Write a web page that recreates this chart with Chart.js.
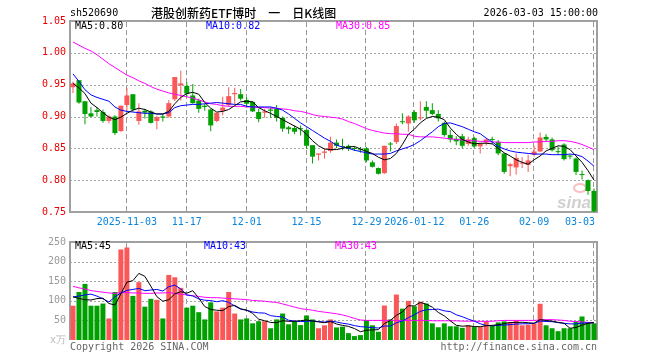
<!DOCTYPE html>
<html><head><meta charset="utf-8">
<script src="https://cdn.jsdelivr.net/npm/chart.js@4/dist/chart.umd.min.js"></script>
<style>
html,body{margin:0;padding:0;background:#fff;}
#wrap{position:relative;width:660px;height:360px;background:#fff;}
#price{position:absolute;left:0;top:0;}
#vol{position:absolute;left:0;top:232px;}
</style>
</head><body>
<div id="wrap"><canvas id="price" width="660" height="232"></canvas><canvas id="vol" width="660" height="128"></canvas></div>
<script>
const dates = ['2025-10-21','2025-10-22','2025-10-23','2025-10-24','2025-10-27','2025-10-28','2025-10-29','2025-10-30','2025-10-31',
'2025-11-03','2025-11-04','2025-11-05','2025-11-06','2025-11-07','2025-11-10','2025-11-11','2025-11-12','2025-11-13','2025-11-14',
'2025-11-17','2025-11-18','2025-11-19','2025-11-20','2025-11-21','2025-11-24','2025-11-25','2025-11-26','2025-11-27','2025-11-28',
'2025-12-01','2025-12-02','2025-12-03','2025-12-04','2025-12-05','2025-12-08','2025-12-09','2025-12-10','2025-12-11','2025-12-12',
'2025-12-15','2025-12-16','2025-12-17','2025-12-18','2025-12-19','2025-12-22','2025-12-23','2025-12-24','2025-12-25','2025-12-26',
'2025-12-29','2025-12-30','2025-12-31','2026-01-05','2026-01-06','2026-01-07','2026-01-08','2026-01-09',
'2026-01-12','2026-01-13','2026-01-14','2026-01-15','2026-01-16','2026-01-19','2026-01-20','2026-01-21','2026-01-22','2026-01-23',
'2026-01-26','2026-01-27','2026-01-28','2026-01-29','2026-01-30','2026-02-02','2026-02-03','2026-02-04','2026-02-05','2026-02-06',
'2026-02-09','2026-02-10','2026-02-11','2026-02-12','2026-02-13','2026-02-24','2026-02-25','2026-02-26','2026-02-27','2026-03-02','2026-03-03'];

const openP = [0.946,0.957,0.924,0.905,0.910,0.907,0.893,0.900,0.877,0.918,
0.935,0.893,0.909,0.908,0.893,0.900,0.900,0.927,0.949,0.948,
0.933,0.925,0.917,0.911,0.893,0.909,0.918,0.935,0.935,0.926,
0.923,0.907,0.906,0.911,0.912,0.898,0.883,0.882,0.881,0.879,
0.855,0.840,0.843,0.846,0.859,0.853,0.854,0.850,0.848,0.850,
0.828,0.819,0.811,0.857,0.860,0.892,0.889,0.907,0.897,0.915,
0.910,0.904,0.890,0.871,0.865,0.869,0.857,0.866,0.853,0.859,
0.864,0.860,0.842,0.822,0.820,0.826,0.824,0.840,0.845,0.868,
0.864,0.845,0.856,0.838,0.834,0.809,0.800,0.783];
const highP = [0.955,0.957,0.924,0.915,0.915,0.911,0.902,0.902,0.917,0.945,
0.935,0.921,0.912,0.910,0.901,0.904,0.926,0.962,0.972,0.954,
0.951,0.928,0.920,0.912,0.906,0.931,0.946,0.945,0.943,0.930,
0.924,0.912,0.912,0.915,0.918,0.900,0.885,0.886,0.886,0.880,
0.855,0.842,0.850,0.868,0.864,0.865,0.856,0.853,0.852,0.852,
0.831,0.820,0.854,0.860,0.889,0.905,0.902,0.910,0.924,0.924,
0.921,0.910,0.892,0.879,0.869,0.873,0.868,0.868,0.858,0.866,
0.868,0.863,0.842,0.827,0.842,0.836,0.840,0.854,0.875,0.872,
0.867,0.853,0.858,0.840,0.836,0.815,0.801,0.787];
const lowP = [0.937,0.920,0.888,0.899,0.900,0.890,0.889,0.871,0.876,0.909,
0.908,0.887,0.897,0.889,0.880,0.892,0.898,0.924,0.925,0.931,
0.920,0.906,0.909,0.877,0.891,0.902,0.915,0.920,0.925,0.914,
0.907,0.891,0.898,0.898,0.892,0.876,0.873,0.872,0.870,0.849,
0.826,0.831,0.834,0.843,0.850,0.847,0.846,0.846,0.843,0.828,
0.820,0.809,0.810,0.845,0.857,0.888,0.876,0.890,0.894,0.898,
0.902,0.892,0.868,0.859,0.855,0.850,0.854,0.850,0.842,0.854,
0.857,0.839,0.810,0.806,0.809,0.819,0.813,0.837,0.845,0.860,
0.845,0.840,0.831,0.833,0.808,0.801,0.777,0.749];
const closeP = [0.952,0.922,0.904,0.900,0.907,0.893,0.900,0.874,0.917,0.933,
0.911,0.908,0.906,0.890,0.899,0.898,0.921,0.962,0.952,0.936,
0.921,0.912,0.915,0.886,0.906,0.914,0.932,0.937,0.928,0.920,
0.908,0.896,0.908,0.909,0.898,0.881,0.880,0.876,0.880,0.854,
0.837,0.842,0.845,0.859,0.854,0.852,0.849,0.849,0.847,0.831,
0.821,0.810,0.854,0.856,0.885,0.891,0.900,0.894,0.898,0.909,
0.904,0.897,0.871,0.864,0.861,0.854,0.864,0.853,0.858,0.864,
0.863,0.842,0.813,0.825,0.835,0.827,0.831,0.845,0.867,0.864,
0.847,0.844,0.833,0.837,0.813,0.808,0.783,0.751];

const ma5 = [0.952,0.945,0.936,0.921,0.914,0.906,0.899,0.895,0.899,0.905,
0.910,0.913,0.911,0.907,0.904,0.904,0.908,0.920,0.930,0.936,
0.938,0.935,0.922,0.913,0.907,0.908,0.911,0.917,0.923,0.924,
0.923,0.914,0.909,0.905,0.900,0.895,0.890,0.885,0.880,0.872,
0.862,0.854,0.849,0.848,0.848,0.850,0.852,0.853,0.849,0.845,
0.842,0.836,0.832,0.834,0.842,0.856,0.872,0.880,0.890,0.897,
0.900,0.899,0.895,0.882,0.872,0.864,0.860,0.857,0.858,0.858,
0.857,0.850,0.843,0.838,0.832,0.828,0.825,0.832,0.838,0.846,
0.850,0.854,0.853,0.848,0.838,0.828,0.815,0.800];
const ma10 = [0.967,0.955,0.942,0.934,0.930,0.927,0.924,0.915,0.910,0.908,
0.907,0.906,0.905,0.905,0.904,0.904,0.906,0.914,0.917,0.918,
0.919,0.919,0.920,0.921,0.922,0.921,0.920,0.919,0.919,0.916,
0.915,0.915,0.915,0.915,0.913,0.910,0.904,0.897,0.890,0.884,
0.878,0.872,0.866,0.861,0.855,0.852,0.850,0.847,0.845,0.843,
0.841,0.841,0.841,0.842,0.846,0.849,0.852,0.856,0.862,0.869,
0.876,0.884,0.889,0.890,0.887,0.884,0.880,0.876,0.873,0.866,
0.860,0.853,0.849,0.846,0.844,0.843,0.842,0.841,0.841,0.841,
0.840,0.840,0.840,0.841,0.840,0.837,0.830,0.822];
const ma30 = [1.017,1.012,1.007,1.003,0.997,0.990,0.983,0.977,0.971,0.965,
0.961,0.956,0.952,0.947,0.943,0.940,0.937,0.935,0.933,0.931,
0.929,0.926,0.923,0.920,0.919,0.917,0.916,0.916,0.916,0.915,
0.915,0.914,0.914,0.913,0.913,0.912,0.911,0.909,0.908,0.906,
0.903,0.901,0.900,0.899,0.898,0.896,0.892,0.889,0.885,0.881,
0.878,0.876,0.874,0.873,0.873,0.872,0.872,0.869,0.868,0.868,
0.868,0.867,0.866,0.865,0.864,0.863,0.862,0.862,0.861,0.861,
0.860,0.860,0.859,0.859,0.859,0.859,0.859,0.860,0.860,0.861,
0.861,0.862,0.862,0.861,0.859,0.856,0.852,0.848];

const volume = [87.5,122.5,143,87.5,87.5,93,55,122.5,231,236,
112.5,147.5,85,105,102.5,55,166,160,133,82.5,
87.5,71,52.5,96,73,82.5,122.5,67.5,52.5,55,
42.5,48,48,30,52.5,67.5,40,48,38,62.5,
52.5,30,37.5,52.5,32,34,17.5,10,12.5,51,
37.5,21,88,52.5,116,80,100,86,97.5,93,
42.5,32.5,42.5,35,35,31,37.5,33,33,47.5,
36,45,47.5,46,50,37.5,39,42,92.5,37.5,
30,22.5,30,30,47.5,60,45,42.5];
const volMa5 = [110,106,103,102,105.6,106.7,93.2,89.1,117.8,147.5,
151.4,169.9,162.4,137.2,110.5,99,102.7,117.7,123.3,119.3,
125.8,106.8,85.3,77.9,76,75,85.3,88.3,79.6,76,
68,53.1,49.2,44.7,44.2,49.2,47.6,47.6,49.2,51.2,
48.2,46.2,44.1,47,40.9,37.2,34.7,29.2,21.2,25,
25.7,26.4,42,50,63,71.5,87.3,86.9,95.9,91.3,
83.8,70.3,61.6,49.1,37.5,35.2,36.2,34.3,33.9,36.4,
37.4,38.9,41.8,44.4,44.9,45.2,44,42.9,52.2,49.7,
48.2,44.9,42.5,30,32,38,42.5,45];
const volMa10 = [110,112,115,117,112,105,97,110,120,126.5,
129,131.5,125.7,127.5,129,125,136,140,130.2,114.9,
112.4,104.7,101.5,100.6,97.6,100.4,96,86.8,78.7,76,
71.5,69.2,68.7,62.1,60.1,58.6,50.4,48.4,47,47.7,
48.7,46.9,45.9,48.1,46.1,42.7,40.5,36.7,34.1,33,
31.5,30.6,35.6,35.6,44,48.6,56.9,64.5,73,77.2,
77.7,78.8,74.3,72.5,64.4,59.5,53.3,48,41.5,37,
36.3,37.6,38.1,39.2,40.7,41.3,41.5,42.4,48.3,47.3,
46.7,44.5,42.7,41.1,40.9,43.1,43.7,43.8];
const volMa30 = [137,133,130,126,124,122,120,119,121,121,
120,120,119,119,120,120,121,119,117,115,
113,111,109,108,108,107,106,105,104,103,
101,100,99,97,96,92,88,84,80,78,
76,73,71,69,67,64,60,55,51,50,
50,50,50,50,50,50,50,50,50,50,
49,49,49,49,49,48,48,48,47.5,47.5,
48,49,50,50,50,50,50,50,51,52,
52,51,50,48,47,46,45,43];

const tickDates = ['2025-11-03','2025-11-17','2025-12-01','2025-12-15','2025-12-29','2026-01-12','2026-01-26','2026-02-09','2026-03-03'];
const tickTexts = ['2025-11-03','11-17','12-01','12-15','12-29','2026-01-12','01-26','02-09','03-03'];
const priceTicks = [0.75,0.80,0.85,0.90,0.95,1.00,1.05];
const priceGrid = [0.80,0.85,0.90,0.95,1.00];
const volTicks = [0,50,100,150,200,250];
const volGrid = [50,100,150,200];

const stockCode = 'sh520690';
const titleText = '港股创新药ETF博时\u3000一\u3000日K线图';
const timeText = '2026-03-03 15:00:00';
const priceLegend = [['MA5:0.80','#000000'],['MA10:0.82','#0000ff'],['MA30:0.85','#ff00ff']];
const volLegend = [['MA5:45','#000000'],['MA10:43','#0000ff'],['MA30:43','#ff00ff']];

const UP = '#fa5858', DOWN = '#00a000';
const MONO = '10px "DejaVu Sans Mono", monospace';
const candleColors = dates.map((d, i) => closeP[i] >= openP[i] ? UP : DOWN);

function drawHGrid(chart, gridVals) {
  const {ctx, chartArea: a} = chart;
  const y = chart.scales.y;
  ctx.save();
  ctx.lineWidth = 1;
  ctx.strokeStyle = '#a6a6a6';
  ctx.setLineDash([2, 2]);
  gridVals.forEach(v => {
    const py = Math.round(y.getPixelForValue(v)) + 0.5;
    ctx.beginPath(); ctx.moveTo(a.left, py); ctx.lineTo(a.right, py); ctx.stroke();
  });
  ctx.restore();
}

function drawVGrid(chart) {
  const {ctx, chartArea: a} = chart;
  const x = chart.scales.x;
  ctx.save();
  ctx.globalCompositeOperation = 'destination-over';
  ctx.strokeStyle = '#9a9a9a';
  ctx.lineWidth = 1;
  ctx.setLineDash([5, 3]);
  for (let k = 0; k < tickDates.length; k++) {
    const idx = dates.indexOf(tickDates[k]);
    const px = Math.round(x.getPixelForValue(idx)) - 0.5;
    ctx.beginPath();
    ctx.moveTo(px, a.top + 1);
    ctx.lineTo(px, a.bottom - 1);
    ctx.stroke();
  }
  ctx.restore();
}

function drawFrame(chart, withBottom) {
  const {ctx, chartArea: a} = chart;
  ctx.save();
  ctx.strokeStyle = '#a0a0a0';
  ctx.lineWidth = 2;
  ctx.setLineDash([]);
  ctx.beginPath();
  if (withBottom) {
    ctx.rect(a.left, a.top, a.right - a.left, a.bottom - a.top);
  } else {
    ctx.moveTo(a.left, a.bottom); ctx.lineTo(a.left, a.top); ctx.lineTo(a.right, a.top); ctx.lineTo(a.right, a.bottom);
  }
  ctx.stroke();
  ctx.restore();
}

const pricePlugin = {
  id: 'pricePlugin',
  beforeDatasetsDraw(chart) {
    drawHGrid(chart, priceGrid);
    drawFrame(chart, true);
    const {ctx, chartArea: a} = chart;
    ctx.save();
    ctx.font = 'italic bold 17px "Liberation Sans", sans-serif';
    ctx.fillStyle = 'rgba(150,150,150,0.45)';
    ctx.textAlign = 'right'; ctx.textBaseline = 'alphabetic';
    ctx.fillText('sina', a.right - 6, a.bottom - 4);
    ctx.strokeStyle = 'rgba(240,120,120,0.45)';
    ctx.lineWidth = 2;
    ctx.beginPath(); ctx.ellipse(a.right - 17, a.bottom - 24, 6, 4, 0, 0, Math.PI * 2); ctx.stroke();
    ctx.restore();
  },
  afterDraw(chart) {
    drawVGrid(chart);
    const {ctx, chartArea: a} = chart;
    const x = chart.scales.x;
    ctx.save();
    ctx.textBaseline = 'middle';
    ctx.font = MONO;
    ctx.fillStyle = '#000';
    ctx.textAlign = 'left';
    ctx.fillText(stockCode, 70, 13);
    ctx.textAlign = 'right';
    ctx.fillText(timeText, 598, 13);
    ctx.textAlign = 'left';
    ctx.font = '500 12px "Noto Sans CJK SC", sans-serif';
    ctx.fillText(titleText, 151, 13);
    ctx.font = MONO;
    const lx = [75, 206, 336];
    priceLegend.forEach((l, i) => { ctx.fillStyle = l[1]; ctx.fillText(l[0], lx[i], 26); });
    ctx.fillStyle = '#0a86dc';
    tickDates.forEach((d, k) => {
      const px = x.getPixelForValue(dates.indexOf(d));
      const w = ctx.measureText(tickTexts[k]).width;
      let x0 = px - w / 2;
      if (x0 + w > a.right - 2) x0 = a.right - 2 - w;
      ctx.fillText(tickTexts[k], x0, 222);
    });
    ctx.restore();
  }
};

const volPlugin = {
  id: 'volPlugin',
  beforeDatasetsDraw(chart) { drawHGrid(chart, volGrid); drawFrame(chart, false); },
  afterDraw(chart) {
    drawVGrid(chart);
    const {ctx} = chart;
    ctx.save();
    ctx.textBaseline = 'middle';
    ctx.font = MONO;
    const lx = [75, 204, 335];
    volLegend.forEach((l, i) => { ctx.fillStyle = l[1]; ctx.textAlign = 'left'; ctx.fillText(l[0], lx[i], 14); });
    ctx.fillStyle = '#666';
    ctx.fillText('Copyright 2026 SINA.COM', 70, 115);
    ctx.textAlign = 'right';
    ctx.fillText('http://finance.sina.com.cn', 597, 115);
    ctx.restore();
  }
};

const lineDs = (data, color) => ({type: 'line', data, borderColor: color, borderWidth: 1, pointRadius: 0, tension: 0, fill: false, order: 0});

new Chart(document.getElementById('price'), {
  type: 'bar',
  data: {
    labels: dates,
    datasets: [
      lineDs(ma5, '#000000'), lineDs(ma10, '#0000ff'), lineDs(ma30, '#ff00ff'),
      {data: dates.map((d, i) => [lowP[i], highP[i]]), backgroundColor: candleColors, barThickness: 1, grouped: false, inflateAmount: 0, order: 2},
      {data: dates.map((d, i) => [openP[i], closeP[i]]), backgroundColor: candleColors, barThickness: 5, grouped: false, minBarLength: 1, inflateAmount: 0, order: 1}
    ]
  },
  options: {
    responsive: false, animation: false, devicePixelRatio: 1,
    layout: {padding: {left: 0, right: 63, top: 21, bottom: 20}},
    plugins: {legend: {display: false}, tooltip: {enabled: false}},
    scales: {
      x: {display: false, offset: true},
      y: {
        min: 0.75, max: 1.05,
        afterFit(s) { s.width = 70; },
        afterBuildTicks(s) { s.ticks = priceTicks.map(v => ({value: v})); },
        ticks: {color: '#e80000', font: {family: 'DejaVu Sans Mono', size: 10}, padding: 4, callback: v => Number(v).toFixed(2)},
        grid: {display: false, drawTicks: false},
        border: {display: false}
      }
    }
  },
  plugins: [pricePlugin]
});

new Chart(document.getElementById('vol'), {
  type: 'bar',
  data: {
    labels: dates,
    datasets: [
      lineDs(volMa5, '#000000'), lineDs(volMa10, '#0000ff'), lineDs(volMa30, '#ff00ff'),
      {data: volume, backgroundColor: candleColors, barThickness: 5, grouped: false, inflateAmount: 0, order: 1}
    ]
  },
  options: {
    responsive: false, animation: false, devicePixelRatio: 1,
    layout: {padding: {left: 0, right: 63, top: 9, bottom: 20}},
    plugins: {legend: {display: false}, tooltip: {enabled: false}},
    scales: {
      x: {display: false, offset: true},
      y: {
        min: 0, max: 250,
        afterFit(s) { s.width = 70; },
        afterBuildTicks(s) { s.ticks = volTicks.map(v => ({value: v})); },
        ticks: {color: c => (c.tick && c.tick.value === 0) ? '#b8b8b8' : '#999999', font: {family: 'DejaVu Sans Mono', size: 10}, padding: 4,
          callback: v => v === 0 ? 'x万' : String(v)},
        grid: {display: false, drawTicks: false},
        border: {display: false}
      }
    }
  },
  plugins: [volPlugin]
});
</script>
</body></html>
